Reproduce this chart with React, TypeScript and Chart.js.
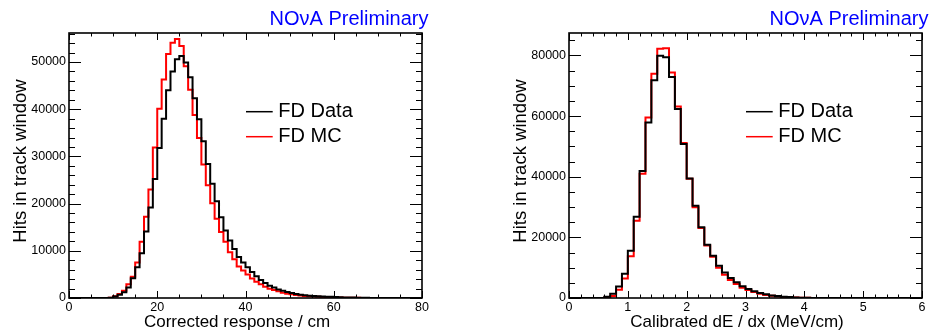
import React, { useEffect, useRef } from "react";
import { Chart, registerables } from "chart.js";

Chart.register(...registerables);

// ---------------- data ----------------
// Left panel: corrected response, 1 cm bins from 0 to 80 cm
const responseData = [
  0, 0, 0, 0, 0, 0, 0, 0, 0, 30,
  300, 700, 1200, 2250, 4200, 6500, 9500, 14100, 19200, 25200,
  31800, 38000, 44000, 48000, 50600, 51300, 49900, 46800, 42300, 37900,
  33200, 28400, 24200, 20500, 17100, 14300, 12200, 10400, 8700, 7500,
  6500, 5500, 4600, 3800, 3200, 2600, 2200, 1800, 1550, 1270,
  1060, 850, 700, 560, 490, 420, 360, 320, 280, 240,
  200, 160, 130, 100, 80, 60, 45, 35, 25, 20,
  15, 10, 8, 6, 0, 0, 0, 0, 0, 0,
];
const responseMC = [
  0, 0, 0, 0, 0, 0, 0, 0, 0, 40,
  350, 850, 1550, 2900, 4500, 7500, 11900, 17200, 23000, 31900,
  40100, 46300, 51700, 54100, 54900, 53400, 49100, 44100, 38800, 33900,
  28300, 23900, 20100, 16800, 14000, 11900, 9700, 8200, 6700, 5850,
  5000, 4150, 3450, 2890, 2390, 1970, 1690, 1410, 1130, 920,
  770, 630, 520, 430, 360, 300, 250, 200, 160, 130,
  100, 80, 60, 50, 40, 30, 20, 15, 10, 8,
  5, 0, 0, 0, 0, 0, 0, 0, 0, 0,
];

// Right panel: calibrated dE/dx, 0.1 MeV/cm bins from 0 to 6
const dedxData = [
  0, 0, 0, 0, 0, 0, 400, 1400, 3800, 8000,
  15600, 26800, 41900, 57900, 71800, 79900, 79400, 72900, 62300, 50800,
  39400, 30400, 23300, 17600, 13900, 10600, 8450, 6600, 5160, 3840,
  2960, 2200, 1640, 1200, 860, 640, 420, 300, 200, 120,
  80, 40, 20, 0, 0, 0, 0, 0, 0, 0,
  0, 0, 0, 0, 0, 0, 0, 0, 0, 0,
];
const dedxMC = [
  0, 0, 0, 0, 0, 0, 150, 700, 2700, 6400,
  13800, 25500, 41000, 59500, 74000, 82200, 82400, 74400, 63200, 51100,
  39300, 29900, 23100, 17300, 13600, 9950, 7700, 5970, 4600, 3400,
  2640, 1970, 1420, 1000, 750, 530, 350, 250, 170, 100,
  60, 30, 15, 0, 0, 0, 0, 0, 0, 0,
  0, 0, 0, 0, 0, 0, 0, 0, 0, 0,
];

const legendLabels = ["FD Data", "FD MC"];
const plotTitle = "NOνA Preliminary";
const yAxisTitle = "Hits in track window";
const responseXTitle = "Corrected response / cm";
const dedxXTitle = "Calibrated dE / dx (MeV/cm)";

const responseXTicks = [0, 20, 40, 60, 80];
const responseYTicks = [0, 10000, 20000, 30000, 40000, 50000];
const dedxXTicks = [0, 1, 2, 3, 4, 5, 6];
const dedxYTicks = [0, 20000, 40000, 60000, 80000];

// ---------------- layout / style ----------------
const FONT = "'Liberation Sans', Arial, Helvetica, sans-serif";
const CW = 465;
const CH = 333;

type Panel = {
  offsetX: number;
  frameLeft: number;
  frameRight: number;
  xMin: number;
  xMax: number;
  binWidth: number;
  yMax: number;
  xMinor: number;
  yMinor: number;
  xTicks: number[];
  yTicks: number[];
  xTitle: string;
  data: number[];
  mc: number[];
};

const panels: Panel[] = [
  {
    offsetX: 0, frameLeft: 69, frameRight: 422,
    xMin: 0, xMax: 80, binWidth: 1, yMax: 56150,
    xMinor: 5, yMinor: 2000,
    xTicks: responseXTicks, yTicks: responseYTicks,
    xTitle: responseXTitle, data: responseData, mc: responseMC,
  },
  {
    offsetX: 465, frameLeft: 104, frameRight: 457,
    xMin: 0, xMax: 6, binWidth: 0.1, yMax: 87400,
    xMinor: 0.2, yMinor: 5000,
    xTicks: dedxXTicks, yTicks: dedxYTicks,
    xTitle: dedxXTitle, data: dedxData, mc: dedxMC,
  },
];

const FRAME_TOP = 33;
const FRAME_BOTTOM = 298;

function histPoints(values: number[], lo: number, w: number) {
  const pts = values.map((v, i) => ({ x: lo + i * w, y: v }));
  pts.push({ x: lo + values.length * w, y: values[values.length - 1] });
  return pts;
}

function isMultiple(v: number, step: number) {
  const r = v / step;
  return Math.abs(r - Math.round(r)) < 1e-6;
}

function rootPlugin(p: Panel) {
  return {
    id: "rootFrame",
    afterDraw(chart: any) {
      const { ctx, chartArea: a, scales } = chart;
      const xs = scales.x;
      const ys = scales.y;
      const majX = p.xTicks[1] - p.xTicks[0];
      const majY = p.yTicks[1] - p.yTicks[0];
      ctx.save();
      ctx.strokeStyle = "#000";
      ctx.lineWidth = 1;
      ctx.beginPath();
      const nx = Math.round((p.xMax - p.xMin) / p.xMinor);
      for (let i = 0; i <= nx; i++) {
        const v = p.xMin + i * p.xMinor;
        const len = isMultiple(v, majX) ? 7 : 3.5;
        const px = Math.round(xs.getPixelForValue(v)) + 0.5;
        ctx.moveTo(px, a.bottom);
        ctx.lineTo(px, a.bottom - len);
        ctx.moveTo(px, a.top);
        ctx.lineTo(px, a.top + len);
      }
      const ny = Math.floor(p.yMax / p.yMinor + 1e-9);
      for (let i = 0; i <= ny; i++) {
        const v = i * p.yMinor;
        const len = isMultiple(v, majY) ? 12 : 6;
        const py = Math.round(ys.getPixelForValue(v)) + 0.5;
        ctx.moveTo(a.left, py);
        ctx.lineTo(a.left + len, py);
        ctx.moveTo(a.right, py);
        ctx.lineTo(a.right - len, py);
      }
      ctx.stroke();

      ctx.lineWidth = 1.6;
      ctx.strokeRect(a.left, a.top, a.right - a.left, a.bottom - a.top);

      // plot title
      ctx.fillStyle = "#0000ff";
      ctx.font = `20px ${FONT}`;
      ctx.textAlign = "right";
      ctx.textBaseline = "alphabetic";
      ctx.fillText(plotTitle, a.right + 6.5, 25);

      // axis titles
      ctx.fillStyle = "#000";
      ctx.font = `17px ${FONT}`;
      ctx.textAlign = "center";
      ctx.fillText(p.xTitle, a.left + 168, 327);

      ctx.save();
      ctx.translate(a.left - 43.3, 161);
      ctx.rotate(-Math.PI / 2);
      ctx.font = `18.5px ${FONT}`;
      ctx.textAlign = "center";
      ctx.fillText(yAxisTitle, 0, 0);
      ctx.restore();

      // legend
      const colors = ["#000000", "#ff0000"];
      const lineY = [111.7, 136.7];
      const textY = [117.3, 142.3];
      ctx.font = `20px ${FONT}`;
      ctx.textAlign = "left";
      for (let k = 0; k < legendLabels.length; k++) {
        ctx.strokeStyle = colors[k];
        ctx.lineWidth = 1.5;
        ctx.beginPath();
        ctx.moveTo(a.left + 177, lineY[k]);
        ctx.lineTo(a.left + 203.7, lineY[k]);
        ctx.stroke();
        ctx.fillStyle = "#000";
        ctx.fillText(legendLabels[k], a.left + 209.3, textY[k]);
      }
      ctx.restore();
    },
  };
}

function HistPanel({ p }: { p: Panel }) {
  const ref = useRef<HTMLCanvasElement>(null);
  useEffect(() => {
    const tickFont = { family: FONT, size: 12.5 };
    const chart = new Chart(ref.current as HTMLCanvasElement, {
      type: "line",
      data: {
        datasets: [
          {
            label: legendLabels[0],
            data: histPoints(p.data, p.xMin, p.binWidth),
            borderColor: "#000000",
            borderWidth: 2,
            stepped: "before",
            pointRadius: 0,
            fill: false,
            tension: 0,
          },
          {
            label: legendLabels[1],
            data: histPoints(p.mc, p.xMin, p.binWidth),
            borderColor: "#ff0000",
            borderWidth: 2,
            stepped: "before",
            pointRadius: 0,
            fill: false,
            tension: 0,
          },
        ],
      },
      options: {
        animation: false,
        responsive: false,
        maintainAspectRatio: false,
        devicePixelRatio: 1,
        events: [],
        layout: {
          padding: { left: 0, right: CW - p.frameRight, top: FRAME_TOP, bottom: 0 },
        },
        plugins: {
          legend: { display: false },
          tooltip: { enabled: false },
          title: { display: false },
        },
        scales: {
          x: {
            type: "linear",
            min: p.xMin,
            max: p.xMax,
            afterFit: (s: any) => { s.height = CH - FRAME_BOTTOM; },
            afterBuildTicks: (s: any) => { s.ticks = p.xTicks.map((v) => ({ value: v })); },
            ticks: {
              font: tickFont,
              color: "#000",
              padding: 2,
              maxRotation: 0,
              autoSkip: false,
              callback: (v: any) => String(v),
            },
            grid: { display: false, drawTicks: false },
            border: { display: false },
          },
          y: {
            type: "linear",
            min: 0,
            max: p.yMax,
            afterFit: (s: any) => { s.width = p.frameLeft; },
            afterBuildTicks: (s: any) => { s.ticks = p.yTicks.map((v) => ({ value: v })); },
            ticks: {
              font: tickFont,
              color: "#000",
              padding: 3,
              autoSkip: false,
              callback: (v: any) => String(v),
            },
            grid: { display: false, drawTicks: false },
            border: { display: false },
          },
        },
      },
      plugins: [rootPlugin(p)],
    } as any);
    return () => chart.destroy();
  }, []);
  return (
    <canvas
      ref={ref}
      width={CW}
      height={CH}
      style={{ position: "absolute", left: p.offsetX, top: 0, width: CW, height: CH }}
    />
  );
}

export default function App() {
  return (
    <div
      style={{
        position: "fixed",
        left: 0,
        top: 0,
        width: 930,
        height: 333,
        background: "#ffffff",
        overflow: "hidden",
      }}
    >
      {panels.map((p, i) => (
        <HistPanel key={i} p={p} />
      ))}
    </div>
  );
}
